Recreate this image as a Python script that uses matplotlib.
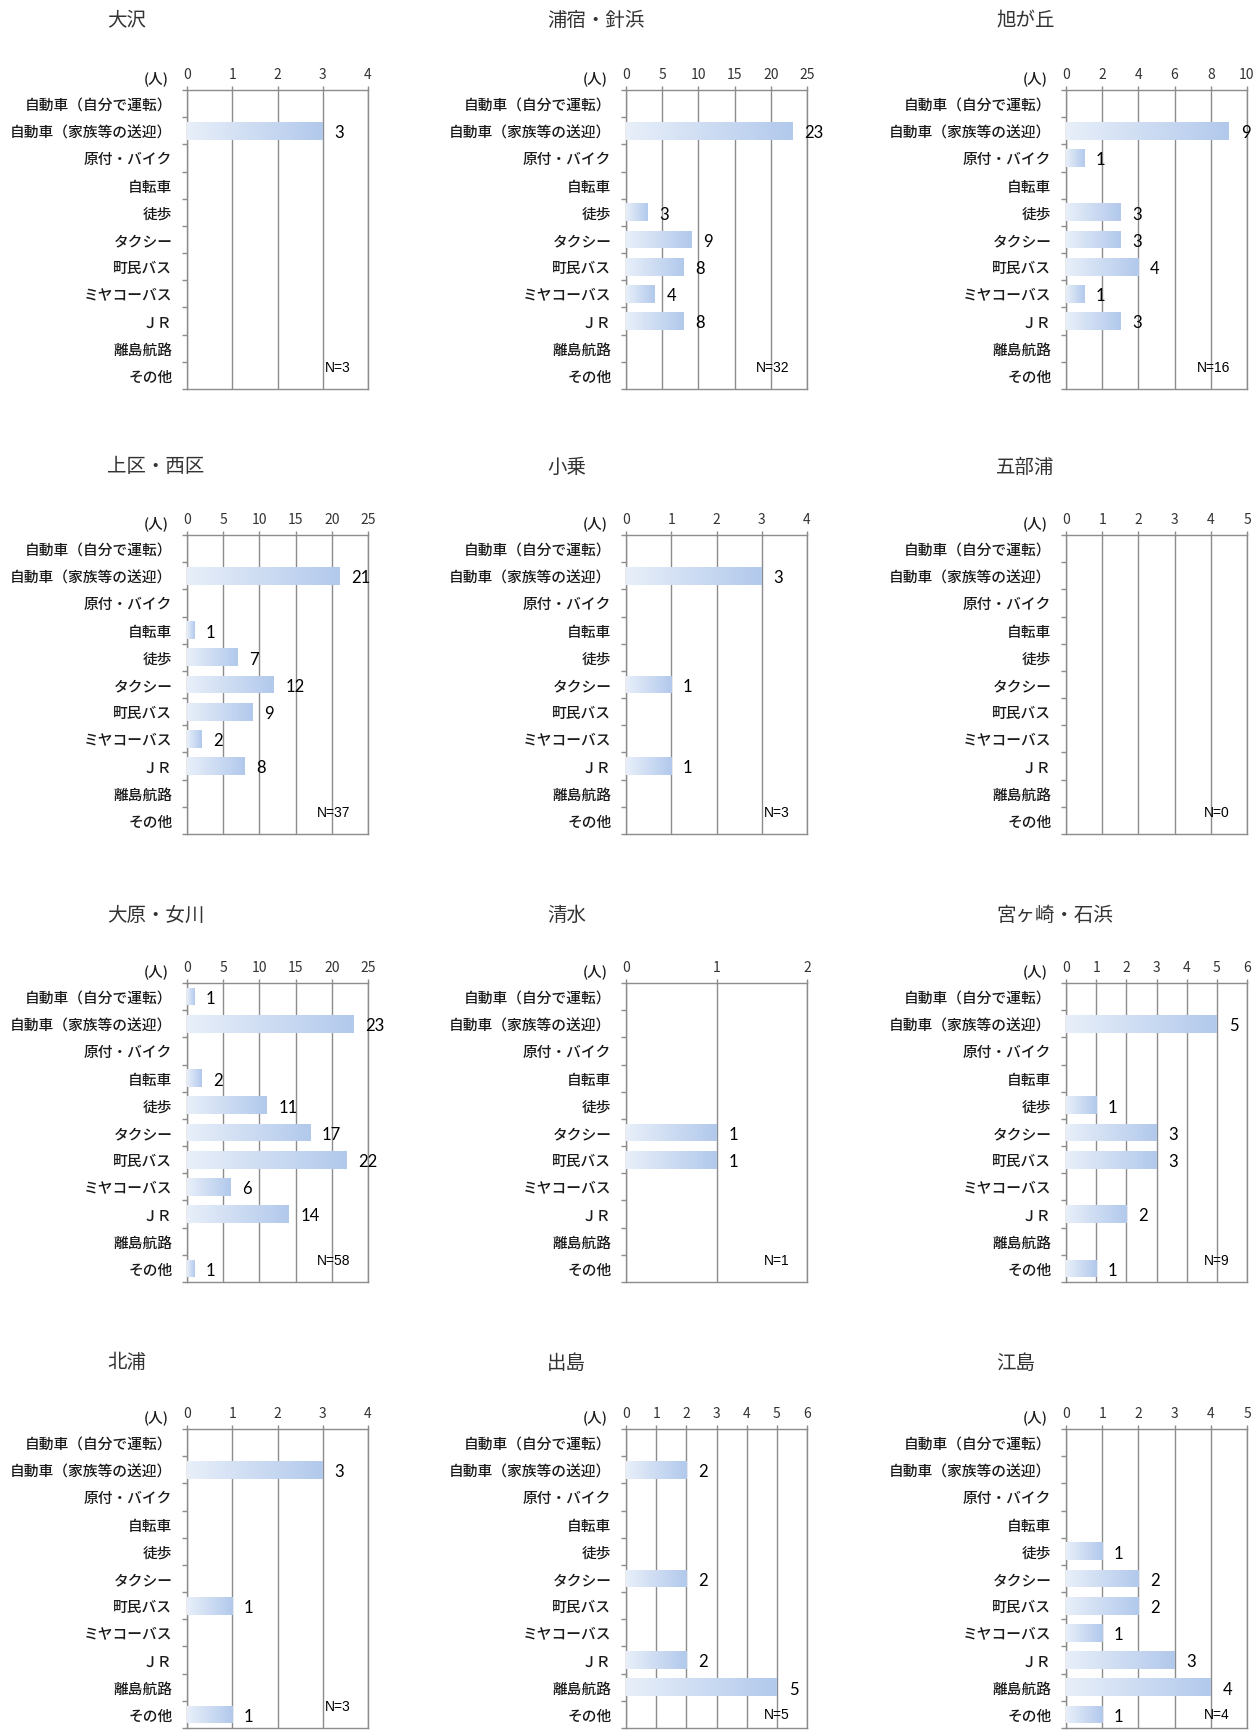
import numpy as np
import matplotlib
matplotlib.use("Agg")
import matplotlib.pyplot as plt
from matplotlib.colors import LinearSegmentedColormap

plt.rcParams['font.family'] = ['Noto Sans CJK JP', 'DejaVu Sans']

# ---- data -------------------------------------------------------------
categories = ["自動車（自分で運転）", "自動車（家族等の送迎）", "原付・バイク", "自転車", "徒歩",
              "タクシー", "町民バス", "ミヤコーバス", "ＪＲ", "離島航路", "その他"]

regions = ["大沢", "浦宿・針浜", "旭が丘",
           "上区・西区", "小乗", "五部浦",
           "大原・女川", "清水", "宮ヶ崎・石浜",
           "北浦", "出島", "江島"]

osawa      = [0, 3, 0, 0, 0, 0, 0, 0, 0, 0, 0]
urashuku   = [0, 23, 0, 0, 3, 9, 8, 4, 8, 0, 0]
asahigaoka = [0, 9, 1, 0, 3, 3, 4, 1, 3, 0, 0]
kamiku     = [0, 21, 0, 1, 7, 12, 9, 2, 8, 0, 0]
konori     = [0, 3, 0, 0, 0, 1, 0, 0, 1, 0, 0]
gobuura    = [0, 0, 0, 0, 0, 0, 0, 0, 0, 0, 0]
oohara     = [1, 23, 0, 2, 11, 17, 22, 6, 14, 0, 1]
shimizu    = [0, 0, 0, 0, 0, 1, 1, 0, 0, 0, 0]
miyagasaki = [0, 5, 0, 0, 1, 3, 3, 0, 2, 0, 1]
kitaura    = [0, 3, 0, 0, 0, 0, 1, 0, 0, 0, 1]
izushima   = [0, 2, 0, 0, 0, 2, 0, 0, 2, 5, 0]
ejima      = [0, 0, 0, 0, 1, 2, 2, 1, 3, 4, 1]

region_values = [osawa, urashuku, asahigaoka, kamiku, konori, gobuura,
                 oohara, shimizu, miyagasaki, kitaura, izushima, ejima]

n_counts = [3, 32, 16, 37, 3, 0, 58, 1, 9, 3, 5, 4]
x_max    = [4, 25, 10, 25, 4, 5, 25, 2, 6, 4, 6, 5]
x_step   = [1, 5, 2, 5, 1, 1, 5, 1, 1, 1, 1, 1]

# ---- layout (pixels on a 1260 x 1731 canvas) ---------------------------
W, H = 1260, 1731
col_left = [187, 626, 1066]
row_top = [91, 536, 984, 1430]
title_x = [107, 547, 996]
title_y = [20, 467, 915, 1363]
AX_W, AX_H = 181, 299
n_label_y = [0.074, 0.074, 0.074, 0.074, 0.074, 0.074,
             0.074, 0.074, 0.074, 0.074, 0.047, 0.047]

GRAY = '#8c8c8c'
TEXT = '#1a1a1a'
bar_cmap = LinearSegmentedColormap.from_list('bar_grad', ['#e8eff9', '#b2c9ec'])
gradient = np.linspace(0, 1, 256).reshape(1, -1)

fig = plt.figure(figsize=(W / 100, H / 100), dpi=100)
fig.patch.set_facecolor('white')

for k, (name, vals) in enumerate(zip(regions, region_values)):
    r, c = divmod(k, 3)
    left = col_left[c] / W
    bottom = 1 - (row_top[r] + AX_H) / H
    ax = fig.add_axes([left, bottom, AX_W / W, AX_H / H])

    y = np.arange(len(categories))
    bars = ax.barh(y, vals, height=0.65, color='none', edgecolor='none', zorder=3)
    for b, v in zip(bars, vals):
        if v <= 0:
            continue
        x0, y0 = b.get_x(), b.get_y()
        im = ax.imshow(gradient, cmap=bar_cmap, aspect='auto', interpolation='bicubic',
                       extent=(x0, x0 + b.get_width(), y0 + b.get_height(), y0), zorder=3)
        im.set_clip_path(b)
        ax.annotate(str(v), xy=(v, b.get_y() + b.get_height() / 2), xytext=(8.5, -1),
                    textcoords='offset points', ha='left', va='center',
                    fontsize=12, fontfamily=['Lato', 'DejaVu Sans'], color='black', zorder=5)

    ax.set_xlim(0, x_max[k])
    ax.set_ylim(len(categories) - 0.5, -0.5)

    # x axis on top with vertical grid
    ax.xaxis.tick_top()
    ax.set_xticks(np.arange(0, x_max[k] + x_step[k] / 2, x_step[k]))
    ax.tick_params(axis='x', which='major', direction='out', length=3, width=1.0,
                   color=GRAY, labelsize=10, labelcolor='#333333', pad=3.5)
    ax.grid(axis='x', color=GRAY, linewidth=1.0, zorder=1)
    ax.set_axisbelow(True)

    # category boundaries as ticks, category names centred between them
    ax.set_yticks(np.arange(-0.5, len(categories), 1.0))
    ax.set_yticklabels([])
    ax.tick_params(axis='y', which='major', direction='out', length=3.5, width=1.0, color=GRAY)
    ax.set_yticks(y, minor=True)
    ax.set_yticklabels(categories, minor=True, fontsize=10.6, color=TEXT, fontweight='medium')
    ax.tick_params(axis='y', which='minor', length=0, pad=10.5)

    for sp in ax.spines.values():
        sp.set_color(GRAY)
        sp.set_linewidth(1.0)

    ax.annotate("(人)", xy=(0, 1), xycoords='axes fraction', xytext=(-13, 9),
                textcoords='offset points', ha='right', va='center', fontsize=10.5,
                color=TEXT, fontweight='medium')

    ax.text(0.905, n_label_y[k], f"N={n_counts[k]}", transform=ax.transAxes,
            ha='right', va='center', fontsize=10,
            fontfamily=['Liberation Sans', 'DejaVu Sans'], color='black', zorder=5)

    fig.text(title_x[c] / W, 1 - title_y[r] / H, name, ha='left', va='center',
             fontsize=14, color='#333333')

fig.savefig('out.png', dpi=100, facecolor='white')
